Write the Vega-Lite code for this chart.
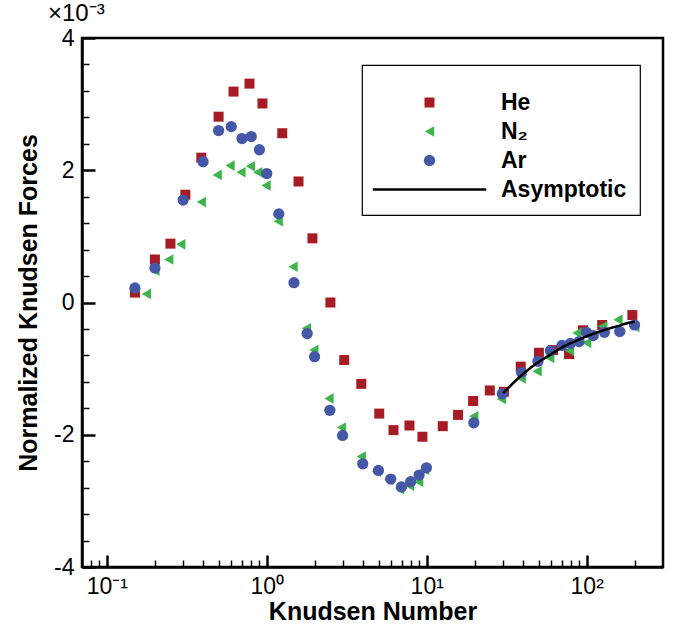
{
  "$schema": "https://vega.github.io/schema/vega-lite/v6.json",
  "width": 581,
  "height": 529,
  "autosize": "none",
  "padding": {"left": 82, "top": 38, "right": 14, "bottom": 62},
  "background": "white",
  "title": {"text": "×10⁻³", "anchor": "start", "frame": "group", "dx": -34, "offset": 1, "fontSize": 24, "fontWeight": "normal", "font": "Liberation Sans", "color": "black"},
  "config": {
    "view": {"stroke": "black", "strokeWidth": 2.5},
    "font": "Liberation Sans",
    "axis": {"grid": false, "domainColor": "black", "domainWidth": 2.5, "tickColor": "black", "labelColor": "black", "labelFont": "Liberation Sans", "labelFontSize": 23, "titleFont": "Liberation Sans", "titleFontSize": 25, "titleFontWeight": "bold", "titleColor": "black"},
    "legend": {"orient": "none", "legendX": 280, "legendY": 27, "padding": 13, "strokeColor": "black", "strokeWidth": 1.2, "fillColor": "white", "symbolSize": 100, "symbolOffset": 43, "labelOffset": 60, "labelFont": "Liberation Sans", "labelFontSize": 23, "labelFontWeight": "bold", "labelColor": "black", "rowPadding": 5, "titleFontSize": 10, "titlePadding": 3, "symbolStrokeWidth": 0}
  },
  "datasets": {
    "pts": [
      {"kn": 0.15, "f": 0.15, "gas": "He"}, {"kn": 0.2, "f": 0.65, "gas": "He"}, {"kn": 0.25, "f": 0.89, "gas": "He"}, {"kn": 0.31, "f": 1.63, "gas": "He"}, {"kn": 0.39, "f": 2.19, "gas": "He"}, {"kn": 0.5, "f": 2.81, "gas": "He"}, {"kn": 0.62, "f": 3.19, "gas": "He"}, {"kn": 0.78, "f": 3.31, "gas": "He"}, {"kn": 0.94, "f": 3.01, "gas": "He"}, {"kn": 1.25, "f": 2.56, "gas": "He"}, {"kn": 1.58, "f": 1.83, "gas": "He"}, {"kn": 1.93, "f": 0.97, "gas": "He"}, {"kn": 2.5, "f": 0.0, "gas": "He"}, {"kn": 3.05, "f": -0.87, "gas": "He"}, {"kn": 3.9, "f": -1.23, "gas": "He"}, {"kn": 5.05, "f": -1.68, "gas": "He"}, {"kn": 6.2, "f": -1.93, "gas": "He"}, {"kn": 7.8, "f": -1.86, "gas": "He"}, {"kn": 9.4, "f": -2.03, "gas": "He"}, {"kn": 12.6, "f": -1.87, "gas": "He"}, {"kn": 15.7, "f": -1.7, "gas": "He"}, {"kn": 19.5, "f": -1.49, "gas": "He"}, {"kn": 24.8, "f": -1.33, "gas": "He"}, {"kn": 30.4, "f": -1.35, "gas": "He"}, {"kn": 38.7, "f": -0.97, "gas": "He"}, {"kn": 50.3, "f": -0.76, "gas": "He"}, {"kn": 61.6, "f": -0.72, "gas": "He"}, {"kn": 77.6, "f": -0.78, "gas": "He"}, {"kn": 94.8, "f": -0.42, "gas": "He"}, {"kn": 125, "f": -0.34, "gas": "He"}, {"kn": 193, "f": -0.19, "gas": "He"},
      {"kn": 0.177, "f": 0.13, "gas": "N₂"}, {"kn": 0.2, "f": 0.48, "gas": "N₂"}, {"kn": 0.244, "f": 0.65, "gas": "N₂"}, {"kn": 0.29, "f": 0.88, "gas": "N₂"}, {"kn": 0.39, "f": 1.52, "gas": "N₂"}, {"kn": 0.49, "f": 1.93, "gas": "N₂"}, {"kn": 0.59, "f": 2.07, "gas": "N₂"}, {"kn": 0.69, "f": 1.97, "gas": "N₂"}, {"kn": 0.79, "f": 2.06, "gas": "N₂"}, {"kn": 0.88, "f": 1.97, "gas": "N₂"}, {"kn": 0.99, "f": 1.77, "gas": "N₂"}, {"kn": 1.18, "f": 1.23, "gas": "N₂"}, {"kn": 1.46, "f": 0.54, "gas": "N₂"}, {"kn": 1.77, "f": -0.39, "gas": "N₂"}, {"kn": 1.97, "f": -0.72, "gas": "N₂"}, {"kn": 2.45, "f": -1.45, "gas": "N₂"}, {"kn": 2.93, "f": -1.89, "gas": "N₂"}, {"kn": 3.9, "f": -2.33, "gas": "N₂"}, {"kn": 4.85, "f": -2.56, "gas": "N₂"}, {"kn": 5.8, "f": -2.68, "gas": "N₂"}, {"kn": 6.77, "f": -2.82, "gas": "N₂"}, {"kn": 7.8, "f": -2.77, "gas": "N₂"}, {"kn": 8.9, "f": -2.71, "gas": "N₂"}, {"kn": 9.7, "f": -2.53, "gas": "N₂"}, {"kn": 19.7, "f": -1.72, "gas": "N₂"}, {"kn": 29.3, "f": -1.46, "gas": "N₂"}, {"kn": 39, "f": -1.15, "gas": "N₂"}, {"kn": 49, "f": -1.04, "gas": "N₂"}, {"kn": 58.8, "f": -0.84, "gas": "N₂"}, {"kn": 78, "f": -0.73, "gas": "N₂"}, {"kn": 87, "f": -0.46, "gas": "N₂"}, {"kn": 100, "f": -0.61, "gas": "N₂"}, {"kn": 126, "f": -0.36, "gas": "N₂"}, {"kn": 157, "f": -0.26, "gas": "N₂"}, {"kn": 200, "f": -0.37, "gas": "N₂"},
      {"kn": 0.15, "f": 0.22, "gas": "Ar"}, {"kn": 0.2, "f": 0.52, "gas": "Ar"}, {"kn": 0.3, "f": 1.55, "gas": "Ar"}, {"kn": 0.4, "f": 2.13, "gas": "Ar"}, {"kn": 0.5, "f": 2.6, "gas": "Ar"}, {"kn": 0.6, "f": 2.66, "gas": "Ar"}, {"kn": 0.7, "f": 2.48, "gas": "Ar"}, {"kn": 0.8, "f": 2.51, "gas": "Ar"}, {"kn": 0.9, "f": 2.31, "gas": "Ar"}, {"kn": 1.0, "f": 1.95, "gas": "Ar"}, {"kn": 1.19, "f": 1.34, "gas": "Ar"}, {"kn": 1.48, "f": 0.3, "gas": "Ar"}, {"kn": 1.79, "f": -0.47, "gas": "Ar"}, {"kn": 1.99, "f": -0.82, "gas": "Ar"}, {"kn": 2.48, "f": -1.63, "gas": "Ar"}, {"kn": 2.98, "f": -2.01, "gas": "Ar"}, {"kn": 3.98, "f": -2.44, "gas": "Ar"}, {"kn": 4.99, "f": -2.54, "gas": "Ar"}, {"kn": 5.96, "f": -2.67, "gas": "Ar"}, {"kn": 6.95, "f": -2.79, "gas": "Ar"}, {"kn": 7.94, "f": -2.71, "gas": "Ar"}, {"kn": 8.96, "f": -2.61, "gas": "Ar"}, {"kn": 9.96, "f": -2.5, "gas": "Ar"}, {"kn": 19.7, "f": -1.82, "gas": "Ar"}, {"kn": 29.7, "f": -1.38, "gas": "Ar"}, {"kn": 39.2, "f": -1.06, "gas": "Ar"}, {"kn": 49.6, "f": -0.89, "gas": "Ar"}, {"kn": 59.3, "f": -0.73, "gas": "Ar"}, {"kn": 70.1, "f": -0.65, "gas": "Ar"}, {"kn": 79, "f": -0.62, "gas": "Ar"}, {"kn": 89.6, "f": -0.59, "gas": "Ar"}, {"kn": 99.6, "f": -0.45, "gas": "Ar"}, {"kn": 110, "f": -0.5, "gas": "Ar"}, {"kn": 129, "f": -0.45, "gas": "Ar"}, {"kn": 161, "f": -0.44, "gas": "Ar"}, {"kn": 199, "f": -0.34, "gas": "Ar"}
    ],
    "asym": [
      {"kn": 30, "f": -1.37, "gas": "Asymptotic"}, {"kn": 35, "f": -1.21, "gas": "Asymptotic"}, {"kn": 40, "f": -1.08, "gas": "Asymptotic"}, {"kn": 45, "f": -0.98, "gas": "Asymptotic"}, {"kn": 50, "f": -0.9, "gas": "Asymptotic"}, {"kn": 60, "f": -0.78, "gas": "Asymptotic"}, {"kn": 70, "f": -0.68, "gas": "Asymptotic"}, {"kn": 80, "f": -0.61, "gas": "Asymptotic"}, {"kn": 90, "f": -0.56, "gas": "Asymptotic"}, {"kn": 100, "f": -0.51, "gas": "Asymptotic"}, {"kn": 120, "f": -0.44, "gas": "Asymptotic"}, {"kn": 140, "f": -0.39, "gas": "Asymptotic"}, {"kn": 160, "f": -0.35, "gas": "Asymptotic"}, {"kn": 180, "f": -0.31, "gas": "Asymptotic"}, {"kn": 200, "f": -0.29, "gas": "Asymptotic"}
    ]
  },
  "resolve": {"axis": {"x": "independent", "y": "independent"}},
  "layer": [
    {
      "data": {"name": "pts"},
      "mark": {"type": "point", "filled": true, "opacity": 1, "strokeWidth": 0},
      "encoding": {
        "x": {"field": "kn", "type": "quantitative", "scale": {"type": "log", "domain": [0.07, 300], "nice": false},
              "axis": {"orient": "bottom", "values": [0.08, 0.09, 0.2, 0.3, 0.4, 0.5, 0.6, 0.7, 0.8, 0.9, 2, 3, 4, 5, 6, 7, 8, 9, 20, 30, 40, 50, 60, 70, 80, 90, 200], "labels": false, "domain": false, "tickSize": -7, "tickWidth": 1.5, "title": null}},
        "y": {"field": "f", "type": "quantitative", "scale": {"domain": [-4, 4], "nice": false, "zero": false},
              "axis": {"orient": "left", "values": [-3.6, -3.2, -2.8, -2.4, -1.6, -1.2, -0.8, -0.4, 0.4, 0.8, 1.2, 1.6, 2.4, 2.8, 3.2, 3.6], "labels": false, "domain": false, "tickSize": -7, "tickWidth": 1.5, "title": null}},
        "color": {"field": "gas", "type": "nominal", "scale": {"domain": ["He", "N₂", "Ar", "Asymptotic"], "range": ["#a71c24", "#3db54a", "#4558a8", "#000000"]}, "legend": {"title": " "}},
        "shape": {"field": "gas", "type": "nominal", "scale": {"domain": ["He", "N₂", "Ar", "Asymptotic"], "range": ["square", "triangle-left", "circle", "M-9.6,-0.22H9.6V0.22H-9.6Z"]}, "legend": {"title": " "}},
        "size": {"field": "gas", "type": "nominal", "scale": {"domain": ["He", "N₂", "Ar", "Asymptotic"], "range": [100, 140, 100, 100]}, "legend": null}
      }
    },
    {
      "data": {"name": "asym"},
      "mark": {"type": "line", "color": "black", "strokeWidth": 2.5},
      "encoding": {
        "x": {"field": "kn", "type": "quantitative",
              "axis": {"orient": "bottom", "values": [0.1, 1, 10, 100], "tickSize": -12, "tickWidth": 2.5, "labelPadding": 20, "labelExpr": "'10' + (datum.value < 0.5 ? '⁻¹' : datum.value < 5 ? '⁰' : datum.value < 50 ? '¹' : '²')", "title": "Knudsen Number", "titlePadding": 1}},
        "y": {"field": "f", "type": "quantitative",
              "axis": {"orient": "left", "values": [-4, -2, 0, 2, 4], "tickSize": -13, "tickWidth": 2.5, "labelPadding": 21, "labelExpr": "datum.value < 0 ? '-' + abs(datum.value) : '' + datum.value", "title": "Normalized Knudsen Forces", "titlePadding": 12}},
        "color": {"field": "gas", "type": "nominal", "legend": {"title": " "}}
      }
    }
  ]
}
